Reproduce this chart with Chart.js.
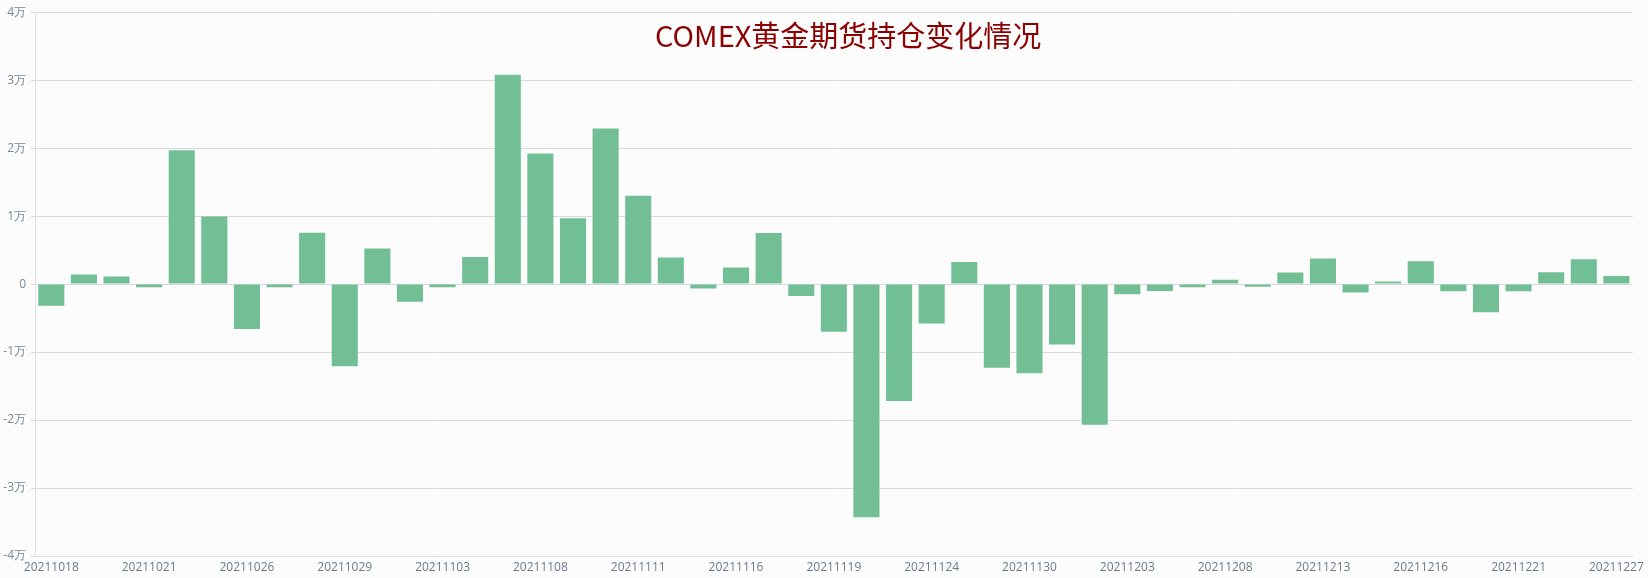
<!DOCTYPE html>
<html>
<head>
<meta charset="utf-8">
<script src="https://cdn.jsdelivr.net/npm/chart.js@4"></script>
<style>
    html, body { margin: 0; padding: 0; background: #fcfcfc; }
    #wrap { position: relative; width: 1648px; height: 578px; }
    #title {
        position: absolute; left: 655px; top: 17px;
        font: 29px "Noto Sans CJK SC", "Noto Sans", sans-serif;
        line-height: 34px; color: #8b0000; white-space: nowrap;
    }
</style>
</head>
<body>
<div id="wrap">
    <canvas id="oi_chart" width="1648" height="578"></canvas>
    <div id="title">COMEX黄金期货持仓变化情况</div>
</div>
<script>
/** Trading days **/
const dates = [
    '20211018', '20211019', '20211020', '20211021', '20211022', '20211025', '20211026',
    '20211027', '20211028', '20211029', '20211101', '20211102', '20211103', '20211104',
    '20211105', '20211108', '20211109', '20211110', '20211111', '20211112', '20211115',
    '20211116', '20211117', '20211118', '20211119', '20211122', '20211123', '20211124',
    '20211126', '20211129', '20211130', '20211201', '20211202', '20211203', '20211206',
    '20211207', '20211208', '20211209', '20211210', '20211213', '20211214', '20211215',
    '20211216', '20211217', '20211220', '20211221', '20211222', '20211223', '20211227'
]

/** Change of open interest (contracts) **/
const oi_change = [
    -3200, 1400, 1100, -450, 19700, 9950, -6600,
    -450, 7550, -12100, 5250, -2600, -450, 4000,
    30800, 19200, 9700, 22900, 13000, 3900, -650,
    2450, 7500, -1750, -7000, -34300, -17200, -5800,
    3250, -12300, -13100, -8900, -20700, -1500, -1000,
    -450, 650, -400, 1700, 3750, -1250, 400,
    3350, -1050, -4150, -1050, 1750, 3650, 1200
]

const y_ticks_min = -40000
const y_ticks_max = 40000
const label_every = 3

var oi_chart = new Chart(
    document.getElementById('oi_chart').getContext('2d'),
    config = {
        type: 'bar',
        data: {
            labels: dates,
            datasets: [{
                backgroundColor: 'rgb(114, 191, 149)',
                borderColor: 'rgb(114, 191, 149)',
                data: oi_change,
                barPercentage: 0.8,
                categoryPercentage: 1.0,
            },
            ]
        },
        options: {
            responsive: false,
            animation: false,
            layout: {
                padding: { top: 12, right: 15, left: 0, bottom: 0 }
            },
            plugins: {
                legend: {
                    display: false,
                },
                tooltip: {
                    enabled: false,
                }
            },
            scales: {
                x: {
                    grid: {
                        display: false,
                        drawTicks: false,
                    },
                    border: {
                        color: '#d9dde3',
                    },
                    ticks: {
                        autoSkip: false,
                        maxRotation: 0,
                        padding: 4,
                        color: '#6b7b8c',
                        font: { family: 'Open Sans', size: 12 },
                        callback: function (value, index) {
                            return index % label_every === 0 ? dates[index] : ''
                        }
                    },
                    afterFit: function (axis) {
                        axis.height = 22
                    }
                },
                y: {
                    min: y_ticks_min,
                    max: y_ticks_max,
                    grid: {
                        color: '#d6d9dd',
                        tickLength: 4,
                    },
                    border: {
                        display: true,
                        color: '#e0e3e6',
                    },
                    ticks: {
                        stepSize: 10000,
                        padding: 5,
                        color: '#7a8896',
                        font: { family: 'Open Sans', size: 12 },
                        callback: function (value) {
                            return value === 0 ? '0' : (value / 10000) + '万'
                        }
                    },
                    afterFit: function (axis) {
                        axis.width = 35
                    }
                }
            },
        }
    }
);
</script>
</body>
</html>
